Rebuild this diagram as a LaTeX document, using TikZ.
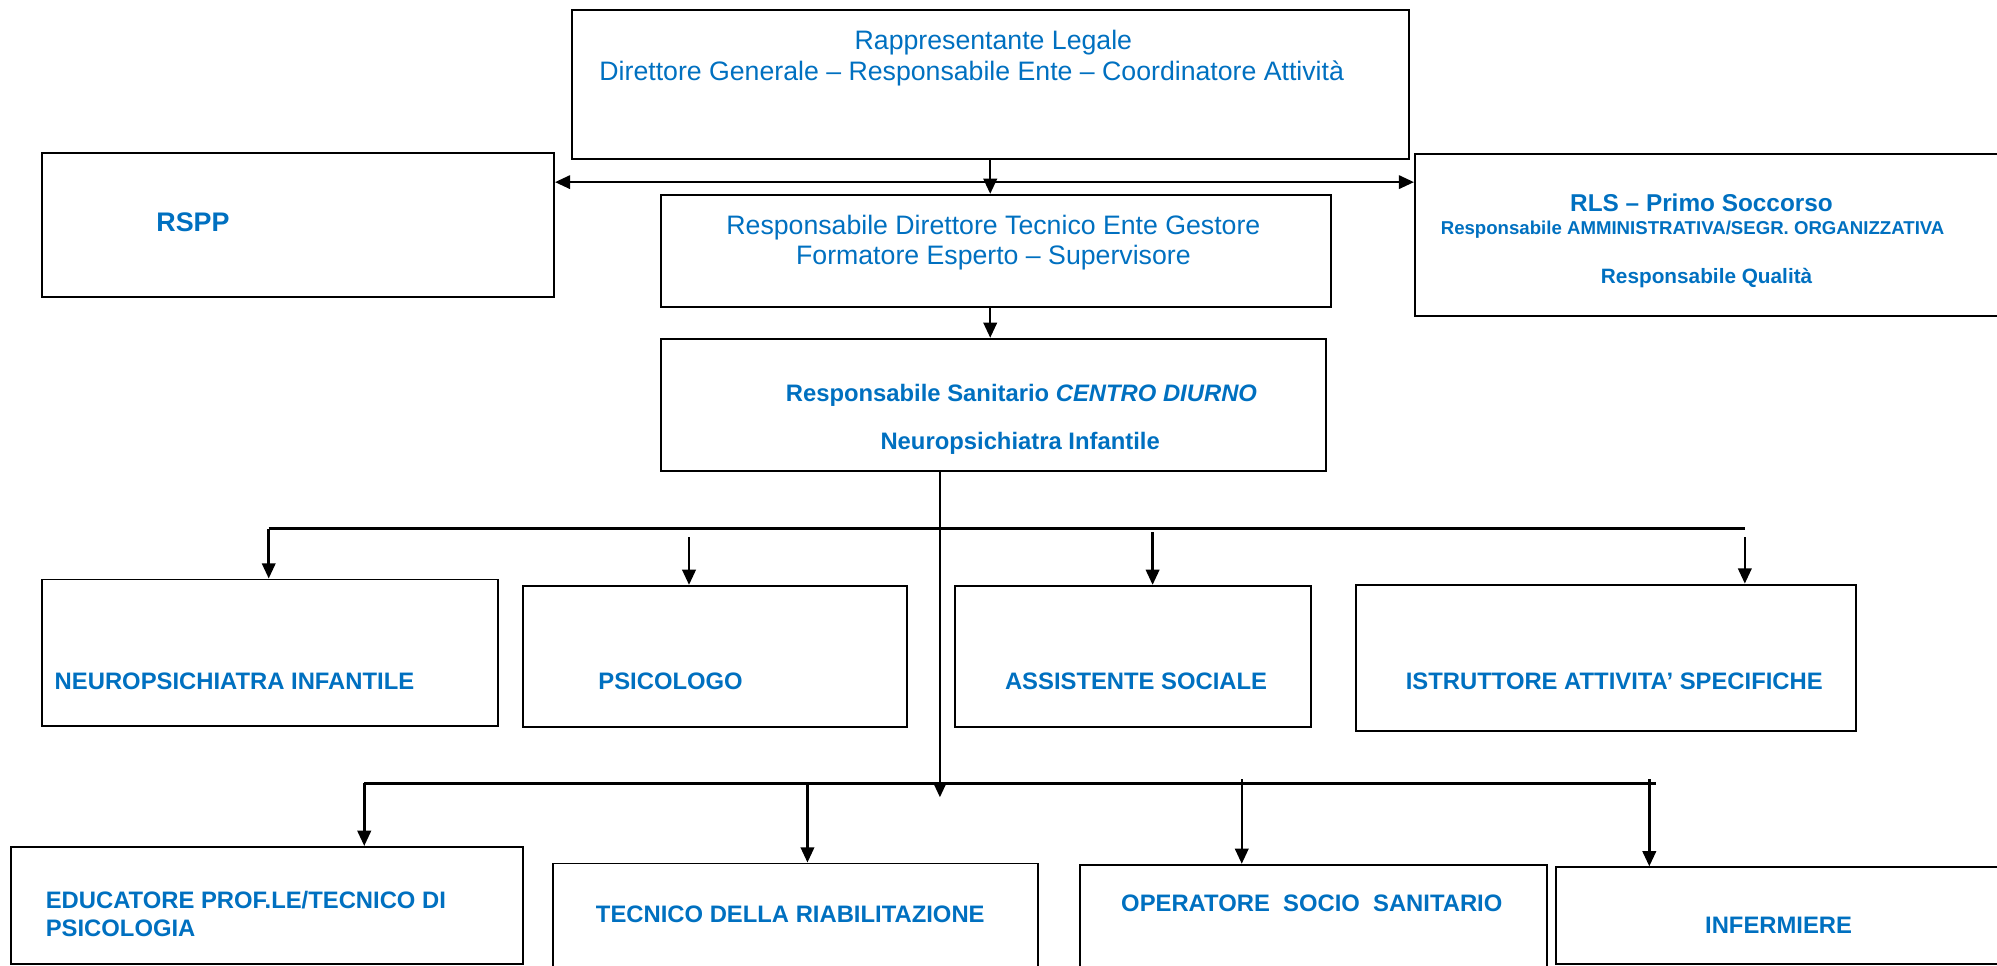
\documentclass[tikz,border=0pt]{standalone}
\usepackage{fontspec}
\setmainfont{Liberation Sans}
\usetikzlibrary{arrows.meta,fit,positioning}
\definecolor{orgblue}{RGB}{0,112,192}

\tikzset{
  box/.style={draw, line width=1.1pt, inner sep=0pt},
  plain/.style={text=orgblue, inner sep=0pt, anchor=base, font=\fontsize{14.9}{17}\selectfont},
  lbl/.style={text=orgblue, inner sep=0pt, anchor=base, font=\bfseries\fontsize{13.3}{16}\selectfont},
}

\begin{document}
\begin{tikzpicture}[x=0.025cm, y=-0.025cm, line width=1.4pt, >={Triangle[length=8.5pt,width=7.5pt]}]
  \useasboundingbox (0,0) rectangle (1568,758);
  \clip (0,0) rectangle (1568,758);

  % boxes
  \node[box, fit={(449,8) (1106,125)}] (leg) {};
  \node[box, fit={(33,120) (435,233)}] (rspp) {};
  \node[box, fit={(519,153) (1045,241)}] (rdt) {};
  \node[box, fit={(1111,121) (1580,248)}] (rls) {};
  \node[box, fit={(519,266) (1041,370)}] (rsan) {};
  \node[box, fit={(33,455) (391,570)}] (npi) {};
  \node[box, fit={(411,460) (712,571)}] (psi) {};
  \node[box, fit={(750,460) (1029,571)}] (soc) {};
  \node[box, fit={(1065,459) (1457,574)}] (ist) {};
  \node[box, fit={(9,665) (411,757)}] (edu) {};
  \node[box, fit={(434,678) (815,775)}] (tec) {};
  \node[box, fit={(848,679) (1215,775)}] (oss) {};
  \node[box, fit={(1222,681) (1580,757)}] (inf) {};

  % texts
  \node[plain] (legA) at (780,39) {Rappresentante Legale};
  \node[plain] (legB) at (763,63) {Direttore Generale – Responsabile Ente – Coordinatore Attività};
  \node[plain] (rdtA) at (780,184) {Responsabile Direttore Tecnico Ente Gestore};
  \node[plain] (rdtB) at (780,208) {Formatore Esperto – Supervisore};
  \node[lbl, font=\bfseries\fontsize{15}{18}\selectfont] (rsppT) at (151.5,182) {RSPP};
  \node[lbl, font=\bfseries\fontsize{13.6}{16}\selectfont] (rlsA) at (1336,166) {RLS – Primo Soccorso};
  \node[lbl, font=\bfseries\fontsize{10.4}{12}\selectfont] (rlsB) at (1329,184) {Responsabile AMMINISTRATIVA/SEGR. ORGANIZZATIVA};
  \node[lbl, font=\bfseries\fontsize{11.6}{14}\selectfont] (rlsC) at (1340,222.5) {Responsabile Qualità};
  \node[lbl] (rsanA) at (802,315) {Responsabile Sanitario \textit{CENTRO DIURNO}};
  \node[lbl] (rsanB) at (801,353) {Neuropsichiatra Infantile};
  \node[lbl, anchor=base west] (npiT) at (42,541) {NEUROPSICHIATRA INFANTILE};
  \node[lbl] (psiT) at (526.5,541) {PSICOLOGO};
  \node[lbl] (socT) at (892,541) {ASSISTENTE SOCIALE};
  \node[lbl] (istT) at (1267.5,541) {ISTRUTTORE ATTIVITA’ SPECIFICHE};
  \node[lbl, anchor=base west] (eduA) at (35,713) {EDUCATORE PROF.LE/TECNICO DI};
  \node[lbl, anchor=base west] (eduB) at (35,735.5) {PSICOLOGIA};
  \node[lbl] (tecT) at (620.5,724) {TECNICO DELLA RIABILITAZIONE};
  \node[lbl] (ossT) at (1030,716) {OPERATORE\ \ SOCIO\ \ SANITARIO};
  \node[lbl] (infT) at (1396.5,733) {INFERMIERE};

  % top connectors
  \coordinate (hub) at (778,143);
  \draw[->] (leg.south) -- (leg.south |- rdt.north);
  \draw[->] (hub) -- (hub -| rspp.east);
  \draw[->] (hub) -- (hub -| rls.west);
  \draw[->] (leg.south |- rdt.south) -- (leg.south |- rsan.north);

  % trunk
  \coordinate (tk) at (738,626);
  \draw[->] (rsan.south -| tk) -- (tk);

  % first row
  \coordinate (b1a) at (211,415);
  \coordinate (b1b) at (1370,415);
  \draw (b1a) -- (b1b);
  \draw[->] (b1a) -- (b1a |- npi.north);
  \coordinate (d2) at (541,422);
  \coordinate (d3) at (905,418);
  \coordinate (d4) at (1370,422);
  \draw[->] (d2) -- (d2 |- psi.north);
  \draw[->] (d3) -- (d3 |- soc.north);
  \draw[->] (d4) -- (d4 |- ist.north);

  % second row
  \coordinate (b2a) at (286,615);
  \coordinate (b2b) at (1300,615);
  \draw (b2a) -- (b2b);
  \draw[->] (b2a) -- (b2a |- edu.north);
  \coordinate (e2) at (634,615);
  \coordinate (e3) at (975,612);
  \coordinate (e4) at (1295,612);
  \draw[->] (e2) -- (e2 |- tec.north);
  \draw[->] (e3) -- (e3 |- oss.north);
  \draw[->] (e4) -- (e4 |- inf.north);
\end{tikzpicture}
\end{document}
